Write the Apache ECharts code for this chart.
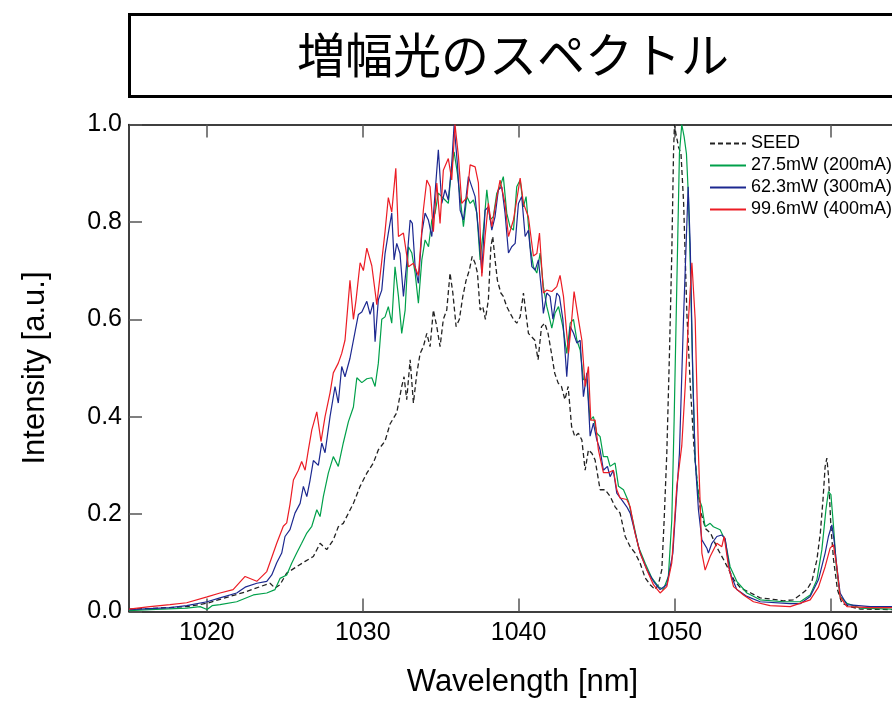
<!DOCTYPE html>
<html>
<head>
<meta charset="utf-8">
<title>増幅光のスペクトル</title>
<script src="https://cdn.jsdelivr.net/npm/echarts@6/dist/echarts.min.js"></script>
<style>
* {
  padding: 0;
  margin: 0;
}
#chart {
  width: 892px;
  height: 701px;
}
</style>
</head>
<body>
<div id="chart"></div>
<script>
const seriesNames = ["SEED", "27.5mW (200mA)", "62.3mW (300mA)", "99.6mW (400mA)"];
const xTicks = [1020, 1030, 1040, 1050, 1060];

// [wavelength nm, intensity a.u.]
const seedData = [
  [1015, 0.005], [1016.35, 0.006], [1018.7, 0.01], [1020.01, 0.017], [1021.48, 0.031], [1022.55, 0.041],
  [1023.41, 0.051], [1024.05, 0.058], [1024.37, 0.048], [1024.69, 0.055], [1025.12, 0.079], [1025.76, 0.092],
  [1026.3, 0.103], [1026.83, 0.113], [1027.26, 0.14], [1027.69, 0.127], [1028.11, 0.147], [1028.43, 0.174],
  [1028.75, 0.181], [1029.08, 0.202], [1029.4, 0.222], [1029.83, 0.257], [1030.26, 0.284], [1030.68, 0.305],
  [1031.0, 0.332], [1031.43, 0.35], [1031.75, 0.385], [1032.18, 0.408], [1032.5, 0.462], [1032.65, 0.482],
  [1032.82, 0.435], [1033.04, 0.517], [1033.25, 0.428], [1033.47, 0.489], [1033.68, 0.53], [1033.89, 0.544],
  [1034.11, 0.571], [1034.32, 0.544], [1034.53, 0.619], [1034.75, 0.585], [1034.96, 0.544], [1035.17, 0.6],
  [1035.39, 0.619], [1035.6, 0.695], [1035.78, 0.654], [1035.99, 0.585], [1036.2, 0.6], [1036.42, 0.647],
  [1036.63, 0.68], [1036.84, 0.701], [1037.02, 0.729], [1037.21, 0.715], [1037.36, 0.695], [1037.53, 0.619],
  [1037.7, 0.626], [1037.87, 0.6], [1038.06, 0.64], [1038.22, 0.749], [1038.34, 0.77], [1038.49, 0.722],
  [1038.64, 0.68], [1038.86, 0.654], [1039.02, 0.647], [1039.24, 0.626], [1039.45, 0.613], [1039.67, 0.6],
  [1039.88, 0.592], [1040.1, 0.605], [1040.31, 0.654], [1040.63, 0.571], [1041.04, 0.557], [1041.25, 0.517],
  [1041.47, 0.585], [1041.68, 0.592], [1041.89, 0.571], [1042.11, 0.53], [1042.32, 0.489], [1042.54, 0.469],
  [1042.75, 0.462], [1042.97, 0.435], [1043.18, 0.462], [1043.4, 0.38], [1043.61, 0.359], [1043.84, 0.366],
  [1044.06, 0.352], [1044.27, 0.29], [1044.48, 0.332], [1044.7, 0.325], [1044.91, 0.311], [1045.23, 0.25],
  [1045.55, 0.25], [1045.88, 0.236], [1046.19, 0.215], [1046.51, 0.202], [1046.84, 0.154], [1047.16, 0.133],
  [1047.48, 0.12], [1047.8, 0.099], [1048.12, 0.069], [1048.44, 0.055], [1048.76, 0.045], [1048.97, 0.055],
  [1049.19, 0.086], [1049.34, 0.188], [1049.51, 0.325], [1049.68, 0.53], [1049.83, 0.736], [1049.94, 0.941],
  [1050.0, 1.0], [1050.09, 0.982], [1050.26, 0.954], [1050.42, 0.94], [1050.5, 0.893], [1050.59, 0.838],
  [1050.8, 0.61], [1051.02, 0.462], [1051.25, 0.34], [1051.46, 0.265], [1051.68, 0.205], [1052.0, 0.17],
  [1052.33, 0.16], [1052.75, 0.13], [1053.18, 0.105], [1053.5, 0.085], [1053.82, 0.065], [1054.25, 0.048],
  [1054.9, 0.038], [1055.5, 0.028], [1056.33, 0.025], [1056.98, 0.022], [1057.62, 0.024], [1058.07, 0.034],
  [1058.5, 0.045], [1058.82, 0.062], [1059.14, 0.106], [1059.36, 0.161], [1059.53, 0.229], [1059.67, 0.298],
  [1059.78, 0.315], [1059.89, 0.277], [1060.04, 0.174], [1060.21, 0.106], [1060.46, 0.045], [1060.74, 0.017],
  [1061.28, 0.01], [1061.92, 0.005], [1063.97, 0.004], [1065.5, 0.004]
];

const mw27Data = [
  [1015, 0.002], [1016.35, 0.004], [1018.7, 0.007], [1019.56, 0.01], [1020.01, 0.004], [1020.33, 0.012],
  [1020.84, 0.014], [1021.91, 0.02], [1022.98, 0.034], [1023.84, 0.038], [1024.37, 0.045], [1024.69, 0.068],
  [1025.12, 0.075], [1025.44, 0.099], [1025.76, 0.12], [1026.08, 0.14], [1026.41, 0.161], [1026.73, 0.175],
  [1027.05, 0.209], [1027.26, 0.195], [1027.47, 0.236], [1027.79, 0.284], [1028.11, 0.318], [1028.43, 0.298],
  [1028.75, 0.346], [1029.08, 0.39], [1029.4, 0.42], [1029.62, 0.48], [1029.94, 0.47], [1030.26, 0.478],
  [1030.58, 0.48], [1030.79, 0.462], [1031.0, 0.51], [1031.22, 0.6], [1031.43, 0.605], [1031.64, 0.626],
  [1031.86, 0.592], [1032.07, 0.708], [1032.29, 0.647], [1032.5, 0.571], [1032.72, 0.619], [1032.93, 0.749],
  [1033.15, 0.736], [1033.36, 0.695], [1033.57, 0.633], [1033.79, 0.722], [1034.0, 0.763], [1034.22, 0.749],
  [1034.43, 0.804], [1034.64, 0.818], [1034.85, 0.859], [1035.07, 0.852], [1035.28, 0.845], [1035.49, 0.838],
  [1035.71, 0.913], [1035.86, 0.944], [1036.07, 0.9], [1036.29, 0.838], [1036.46, 0.79], [1036.68, 0.852],
  [1036.89, 0.838], [1037.1, 0.845], [1037.32, 0.818], [1037.53, 0.722], [1037.74, 0.783], [1037.96, 0.866],
  [1038.17, 0.804], [1038.38, 0.811], [1038.6, 0.859], [1038.81, 0.872], [1039.02, 0.893], [1039.24, 0.818],
  [1039.45, 0.79], [1039.67, 0.783], [1039.88, 0.872], [1040.1, 0.886], [1040.31, 0.831], [1040.48, 0.852],
  [1040.74, 0.749], [1040.95, 0.708], [1041.17, 0.695], [1041.38, 0.736], [1041.59, 0.667], [1041.81, 0.626],
  [1041.91, 0.613], [1042.13, 0.582], [1042.34, 0.613], [1042.56, 0.626], [1042.84, 0.585], [1043.09, 0.53],
  [1043.31, 0.592], [1043.52, 0.6], [1043.74, 0.557], [1043.95, 0.537], [1044.16, 0.476], [1044.38, 0.476],
  [1044.59, 0.393], [1044.8, 0.4], [1045.02, 0.366], [1045.23, 0.359], [1045.44, 0.318], [1045.7, 0.318],
  [1045.87, 0.298], [1046.19, 0.305], [1046.41, 0.257], [1046.73, 0.25], [1047.05, 0.226], [1047.37, 0.181],
  [1047.69, 0.133], [1048.12, 0.099], [1048.55, 0.069], [1048.97, 0.051], [1049.29, 0.045], [1049.61, 0.072],
  [1049.83, 0.188], [1049.98, 0.393], [1050.15, 0.667], [1050.32, 0.941], [1050.47, 1.0], [1050.62, 0.975],
  [1050.77, 0.94], [1050.9, 0.85], [1051.01, 0.72], [1051.18, 0.48], [1051.33, 0.31], [1051.54, 0.236],
  [1051.76, 0.215], [1051.97, 0.174], [1052.29, 0.181], [1052.5, 0.174], [1052.93, 0.168], [1053.25, 0.147],
  [1053.57, 0.092], [1054.0, 0.062], [1054.65, 0.038], [1055.5, 0.024], [1057.0, 0.02], [1058.07, 0.02],
  [1058.71, 0.034], [1059.14, 0.065], [1059.46, 0.127], [1059.72, 0.209], [1059.88, 0.246], [1060.04, 0.24],
  [1060.21, 0.174], [1060.39, 0.092], [1060.63, 0.031], [1061.07, 0.017], [1061.92, 0.007], [1063.97, 0.005],
  [1065.5, 0.005]
];

const mw62Data = [
  [1015, 0.004], [1016.35, 0.006], [1017.63, 0.008], [1018.7, 0.012], [1020.01, 0.02], [1020.84, 0.028],
  [1021.91, 0.038], [1022.45, 0.05], [1023.2, 0.058], [1023.84, 0.062], [1024.16, 0.075], [1024.48, 0.1],
  [1024.8, 0.12], [1025.01, 0.154], [1025.33, 0.168], [1025.65, 0.202], [1025.98, 0.222], [1026.19, 0.257],
  [1026.41, 0.236], [1026.62, 0.27], [1026.83, 0.31], [1027.15, 0.3], [1027.37, 0.346], [1027.58, 0.326],
  [1027.9, 0.4], [1028.22, 0.462], [1028.43, 0.428], [1028.65, 0.503], [1028.86, 0.482], [1029.18, 0.52],
  [1029.51, 0.575], [1029.72, 0.61], [1029.94, 0.615], [1030.26, 0.637], [1030.47, 0.61], [1030.68, 0.635],
  [1030.79, 0.554], [1031.0, 0.64], [1031.22, 0.66], [1031.43, 0.735], [1031.64, 0.777], [1031.86, 0.818],
  [1032.01, 0.722], [1032.18, 0.756], [1032.39, 0.735], [1032.61, 0.647], [1032.82, 0.715], [1033.04, 0.804],
  [1033.18, 0.797], [1033.36, 0.708], [1033.57, 0.674], [1033.79, 0.777], [1034.0, 0.818], [1034.21, 0.804],
  [1034.43, 0.77], [1034.64, 0.859], [1034.85, 0.948], [1035.07, 0.838], [1035.28, 0.866], [1035.49, 0.845],
  [1035.71, 0.92], [1035.86, 0.999], [1036.07, 0.92], [1036.25, 0.824], [1036.46, 0.804], [1036.78, 0.893],
  [1037.0, 0.872], [1037.21, 0.852], [1037.42, 0.783], [1037.64, 0.695], [1037.85, 0.824], [1038.06, 0.831],
  [1038.28, 0.783], [1038.49, 0.811], [1038.7, 0.866], [1038.92, 0.872], [1039.13, 0.818], [1039.35, 0.736],
  [1039.56, 0.749], [1039.78, 0.756], [1039.99, 0.838], [1040.2, 0.852], [1040.42, 0.77], [1040.63, 0.783],
  [1040.85, 0.708], [1041.06, 0.701], [1041.27, 0.722], [1041.49, 0.653], [1041.59, 0.612], [1041.81, 0.654],
  [1042.02, 0.647], [1042.2, 0.6], [1042.45, 0.654], [1042.62, 0.647], [1042.84, 0.6], [1043.09, 0.482],
  [1043.31, 0.585], [1043.52, 0.572], [1043.74, 0.551], [1043.95, 0.557], [1044.16, 0.441], [1044.38, 0.49],
  [1044.59, 0.36], [1044.8, 0.387], [1045.02, 0.352], [1045.23, 0.332], [1045.44, 0.29], [1045.7, 0.298],
  [1045.87, 0.277], [1046.08, 0.29], [1046.3, 0.243], [1046.62, 0.229], [1046.94, 0.215], [1047.16, 0.202],
  [1047.48, 0.161], [1047.8, 0.12], [1048.23, 0.086], [1048.65, 0.062], [1049.08, 0.045], [1049.51, 0.055],
  [1049.9, 0.12], [1050.1, 0.22], [1050.32, 0.325], [1050.58, 0.6], [1050.8, 0.8], [1050.88, 0.872],
  [1051.01, 0.756], [1051.18, 0.482], [1051.33, 0.311], [1051.54, 0.209], [1051.76, 0.147], [1052.08, 0.13],
  [1052.18, 0.12], [1052.4, 0.14], [1052.72, 0.154], [1053.04, 0.157], [1053.25, 0.15], [1053.57, 0.079],
  [1054.0, 0.045], [1054.65, 0.031], [1055.5, 0.02], [1057.43, 0.016], [1058.07, 0.016], [1058.71, 0.031],
  [1059.24, 0.065], [1059.67, 0.12], [1059.88, 0.154], [1060.1, 0.178], [1060.24, 0.147], [1060.42, 0.092],
  [1060.63, 0.038], [1061.07, 0.014], [1062.56, 0.01], [1063.97, 0.01], [1065.5, 0.01]
];

const mw99Data = [
  [1015, 0.005], [1016.35, 0.01], [1017.63, 0.014], [1018.7, 0.018], [1020.01, 0.03], [1020.84, 0.038],
  [1021.68, 0.045], [1022.45, 0.072], [1023.2, 0.062], [1023.84, 0.082], [1024.26, 0.12], [1024.48, 0.14],
  [1024.9, 0.175], [1025.12, 0.182], [1025.33, 0.22], [1025.55, 0.27], [1025.87, 0.29], [1026.08, 0.308],
  [1026.3, 0.29], [1026.51, 0.332], [1026.73, 0.373], [1027.05, 0.41], [1027.32, 0.349], [1027.58, 0.4],
  [1027.9, 0.449], [1028.11, 0.49], [1028.43, 0.51], [1028.65, 0.53], [1028.86, 0.557], [1029.18, 0.68],
  [1029.4, 0.6], [1029.57, 0.64], [1029.83, 0.716], [1030.04, 0.7], [1030.26, 0.746], [1030.36, 0.75],
  [1030.58, 0.71], [1030.9, 0.63], [1031.22, 0.72], [1031.43, 0.78], [1031.64, 0.85], [1031.86, 0.82],
  [1032.12, 0.91], [1032.29, 0.77], [1032.61, 0.777], [1032.93, 0.708], [1033.25, 0.715], [1033.57, 0.69],
  [1033.89, 0.825], [1034.11, 0.886], [1034.32, 0.872], [1034.53, 0.78], [1034.75, 0.88], [1034.96, 0.797],
  [1035.17, 0.906], [1035.49, 0.93], [1035.71, 0.886], [1035.92, 1.0], [1036.14, 0.934], [1036.35, 0.838],
  [1036.68, 0.85], [1036.89, 0.917], [1037.21, 0.913], [1037.42, 0.88], [1037.64, 0.688], [1037.85, 0.77],
  [1038.06, 0.838], [1038.28, 0.79], [1038.6, 0.85], [1038.81, 0.886], [1039.13, 0.838], [1039.35, 0.77],
  [1039.67, 0.804], [1039.88, 0.845], [1040.1, 0.89], [1040.31, 0.838], [1040.63, 0.81], [1040.95, 0.73],
  [1041.17, 0.735], [1041.34, 0.777], [1041.59, 0.654], [1041.81, 0.66], [1042.13, 0.657], [1042.45, 0.667],
  [1042.66, 0.69], [1042.88, 0.647], [1043.2, 0.53], [1043.41, 0.6], [1043.56, 0.657], [1043.84, 0.6],
  [1044.06, 0.557], [1044.27, 0.462], [1044.48, 0.503], [1044.63, 0.393], [1044.91, 0.393], [1045.12, 0.332],
  [1045.44, 0.285], [1045.76, 0.285], [1046.08, 0.29], [1046.3, 0.25], [1046.51, 0.233], [1046.94, 0.23],
  [1047.16, 0.215], [1047.48, 0.16], [1047.8, 0.12], [1048.23, 0.085], [1048.65, 0.055], [1049.08, 0.038],
  [1049.51, 0.051], [1049.83, 0.1], [1050.15, 0.257], [1050.47, 0.34], [1050.69, 0.462], [1050.9, 0.6],
  [1051.12, 0.716], [1051.33, 0.6], [1051.54, 0.325], [1051.76, 0.12], [1051.97, 0.085], [1052.29, 0.113],
  [1052.72, 0.14], [1053.04, 0.133], [1053.19, 0.154], [1053.47, 0.092], [1053.79, 0.051], [1054.43, 0.034],
  [1055.07, 0.02], [1056.14, 0.012], [1057.43, 0.01], [1058.71, 0.024], [1059.24, 0.05], [1059.67, 0.092],
  [1059.99, 0.13], [1060.2, 0.137], [1060.42, 0.092], [1060.63, 0.03], [1061.07, 0.01], [1062.56, 0.008],
  [1063.97, 0.008], [1065.5, 0.008]
];

const font = "Liberation Sans";

const chart = echarts.init(document.getElementById("chart"));

function frameAxis(position) {
  return {
    type: "value",
    min: 1015,
    max: 1065.5,
    position: position,
    axisLine: { show: true, onZero: false, lineStyle: { color: "#000", width: 1.5 } },
    axisTick: {
      show: true,
      inside: true,
      length: 13,
      customValues: xTicks,
      lineStyle: { color: "#555", width: 1.5 },
    },
    splitLine: { show: false },
  };
}

const bottomAxis = frameAxis("bottom");
bottomAxis.axisLabel = {
  customValues: xTicks,
  fontSize: 25,
  fontFamily: font,
  color: "#000",
  margin: 9,
  formatter: (v) => String(v),
};
bottomAxis.name = "Wavelength [nm]";
bottomAxis.nameLocation = "middle";
bottomAxis.nameGap = 55;
bottomAxis.nameTextStyle = { fontSize: 31, fontFamily: font, color: "#000" };

const topAxis = frameAxis("top");
topAxis.axisLabel = { show: false };

chart.setOption({
  animation: false,
  textStyle: { fontFamily: font },
  title: {
    text: "増幅光のスペクトル",
    left: 129,
    top: 14,
    padding: [17, 200, 18, 168],
    borderWidth: 3,
    borderColor: "#000",
    textStyle: {
      fontFamily: "Noto Sans CJK JP",
      fontSize: 48,
      fontWeight: "normal",
      color: "#000",
      lineHeight: 48,
    },
  },
  legend: {
    orient: "vertical",
    left: 709,
    top: 134.5,
    padding: 0,
    itemWidth: 36,
    itemHeight: 12,
    itemGap: 4,
    itemStyle: { opacity: 0 },
    textStyle: { fontSize: 18, fontFamily: font, color: "#000" },
    data: seriesNames,
  },
  grid: {
    left: 129,
    top: 124.5,
    width: 787,
    height: 487,
    outerBoundsMode: "none",
  },
  xAxis: [bottomAxis, topAxis],
  yAxis: {
    type: "value",
    min: 0,
    max: 1,
    interval: 0.2,
    axisLine: { show: true, lineStyle: { color: "#000", width: 1.5 } },
    axisTick: { show: true, inside: true, length: 13, lineStyle: { color: "#555", width: 1.5 } },
    axisLabel: {
      fontSize: 25,
      fontFamily: font,
      color: "#000",
      margin: 7,
      formatter: (v) => v.toFixed(1),
    },
    splitLine: { show: false },
    name: "Intensity [a.u.]",
    nameLocation: "middle",
    nameRotate: 90,
    nameGap: 78,
    nameTextStyle: { fontSize: 31, fontFamily: font, color: "#000" },
  },
  series: [
    {
      name: seriesNames[0],
      type: "line",
      data: seedData,
      symbol: "none",
      lineStyle: { color: "#222", width: 1.3, type: [5, 3] },
      itemStyle: { color: "#222" },
    },
    {
      name: seriesNames[1],
      type: "line",
      data: mw27Data,
      symbol: "none",
      lineStyle: { color: "#00a04a", width: 1.2 },
      itemStyle: { color: "#00a04a" },
    },
    {
      name: seriesNames[2],
      type: "line",
      data: mw62Data,
      symbol: "none",
      lineStyle: { color: "#1c2890", width: 1.2 },
      itemStyle: { color: "#1c2890" },
    },
    {
      name: seriesNames[3],
      type: "line",
      data: mw99Data,
      symbol: "none",
      lineStyle: { color: "#ec1c24", width: 1.2 },
      itemStyle: { color: "#ec1c24" },
    },
  ],
});
</script>
</body>
</html>
